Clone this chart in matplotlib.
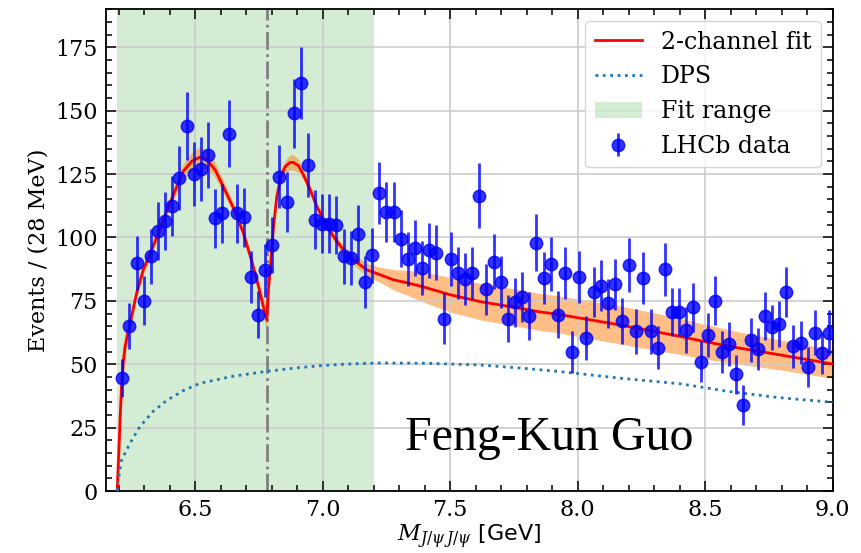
import numpy as np
import matplotlib
matplotlib.use("Agg")
import matplotlib.pyplot as plt

plt.rcParams["font.family"] = "DejaVu Serif"
plt.rcParams["mathtext.fontset"] = "dejavuserif"
plt.rcParams["font.size"] = 16

# LHCb di-J/psi spectrum, 28 MeV bins starting at 6.2 GeV
bin_lo = 6.2
bin_width = 0.028
events = [44.5, 65, 90, 75, 92.5, 102.5, 106.5, 112.5, 123.5, 144,
          125, 127, 132.5, 107.5, 109.5, 141, 109.5, 108, 84.5, 69.5,
          87, 97, 124, 114, 149, 161, 128.5, 107, 105.5, 105.5,
          105, 92.5, 92, 101.5, 82.5, 93, 117.5, 110, 110, 99.5,
          91.5, 96, 88, 95, 94, 68, 91.5, 86, 83.5, 86,
          116.5, 79.5, 90.5, 82.5, 68, 74.5, 76.5, 69, 98, 84,
          89.5, 69.5, 86, 55, 84.5, 60.5, 78.5, 81, 74, 81.5,
          67, 89, 63, 84, 63, 56.5, 87.5, 70.5, 70.5, 63.5,
          72.5, 51, 61.5, 75, 55, 58, 46, 34, 59.5, 56,
          69, 64.5, 66, 78.5, 57, 58.5, 49, 62.5, 54.5, 62.5]
errors = [7.5, 9.0, 10.6, 9.7, 10.8, 11.3, 11.6, 11.9, 12.5, 13.4,
          12.5, 12.6, 12.9, 11.6, 11.7, 13.3, 11.7, 11.6, 10.3, 9.3,
          10.4, 11.0, 12.5, 12.0, 13.7, 14.2, 12.7, 11.6, 11.5, 11.5,
          11.5, 10.8, 10.7, 11.3, 10.2, 10.8, 12.1, 11.7, 11.7, 11.2,
          10.7, 11.0, 10.5, 10.9, 10.8, 10.0, 10.7, 10.4, 10.2, 10.4,
          12.8, 10.0, 10.7, 10.2, 9.2, 9.7, 9.8, 9.3, 11.1, 10.3,
          10.6, 9.3, 10.4, 8.3, 10.3, 8.7, 9.9, 10.1, 9.6, 10.1,
          9.2, 10.6, 8.9, 10.3, 8.9, 8.4, 10.5, 9.4, 9.4, 8.9,
          9.6, 8.0, 8.8, 9.7, 8.3, 8.5, 7.6, 8.0, 8.6, 8.4,
          9.3, 9.0, 9.1, 9.9, 8.5, 8.6, 7.8, 8.9, 8.3, 8.8]
mass = bin_lo + bin_width * (np.arange(len(events)) + 0.5)

# Two-channel fit curve and its uncertainty band
fit_mass = [6.194, 6.197, 6.201, 6.206, 6.212, 6.218, 6.225, 6.235, 6.244, 6.257,
            6.270, 6.296, 6.329, 6.355, 6.388, 6.421, 6.453, 6.486, 6.516, 6.545,
            6.578, 6.610, 6.650, 6.689, 6.722, 6.748, 6.767, 6.781, 6.787, 6.798,
            6.807, 6.820, 6.836, 6.853, 6.872, 6.885, 6.905, 6.924, 6.951, 6.977,
            7.010, 7.042, 7.081, 7.121, 7.173, 7.225, 7.278, 7.336, 7.395, 7.500,
            7.618, 7.749, 7.853, 7.918, 8.009, 8.166, 8.323, 8.401, 8.480, 8.597,
            8.793, 9.000]
fit_events = [0, 8, 17.5, 30, 43.5, 51, 57, 62, 65.5, 72,
              78, 87.2, 95.1, 101.7, 110.3, 118.5, 126.1, 130, 131.6, 130.7,
              126.7, 120.1, 111.6, 101.7, 90.5, 80.7, 72.8, 67.5, 79.4, 92.5,
              104.3, 116.2, 124.1, 128, 129.6, 129.6, 128.3, 124.8, 118.8, 112.2,
              105.7, 100.4, 95.1, 91.2, 87.2, 85.3, 83.3, 82.0, 80.5, 77.4,
              74.7, 72.5, 70.6, 69.8, 68.2, 65.5, 62.5, 61.0, 59.3, 57.0,
              53.7, 50.1]
fit_halfwidth = [0, 6, 10, 12, 10, 7, 5, 3, 2, 2,
                 2, 2, 2, 2, 2, 2.5, 3, 3.5, 4, 3.5,
                 3, 2.5, 2, 2, 2, 2.5, 3.5, 5, 4, 3,
                 2.5, 2.5, 2.5, 2.5, 3, 3, 2.5, 2, 2, 1.8,
                 1.8, 1.8, 1.8, 2, 2.5, 3, 4, 5, 6, 6.8,
                 7.2, 7.3, 7.3, 7.3, 7.4, 7.5, 7.3, 7.1, 6.9, 6.5,
                 5.9, 5.7]

# Double-parton-scattering background
dps_mass = [6.194, 6.198, 6.211, 6.244, 6.283, 6.336, 6.388, 6.453, 6.519, 6.650,
            6.781, 6.900, 7.000, 7.100, 7.225, 7.400, 7.618, 7.800, 7.931, 8.166,
            8.401, 8.597, 8.793, 9.000]
dps_events = [0, 4.3, 12.2, 18.8, 25.4, 31.5, 35.7, 39.6, 42.5, 45.3,
              47.2, 48.6, 49.5, 50.1, 50.5, 50.4, 49.7, 48.3, 47.1, 44.5,
              42.3, 39.2, 36.8, 35.0]

fit_lo, fit_hi = 6.194, 7.2
threshold = 6.783

fig = plt.figure(figsize=(8.61, 5.53), dpi=100)
ax = fig.add_axes([0.1231, 0.1121, 0.8440, 0.8711])

span = ax.axvspan(fit_lo, fit_hi, color="C2", alpha=0.2, lw=0, label="Fit range")
fm = np.array(fit_mass)
fe = np.array(fit_events)
hw = np.array(fit_halfwidth)
ax.fill_between(fm, np.clip(fe - hw, 0, None), fe + hw, color="C1", alpha=0.5, lw=0)
fit_line, = ax.plot(fit_mass, fit_events, color="red", lw=2, label="2-channel fit", zorder=3)
dps_line, = ax.plot(dps_mass, dps_events, color="C0", ls=":", lw=2, label="DPS", zorder=3)
ax.axvline(threshold, color="gray", ls="-.", lw=2, zorder=2.5)
data = ax.errorbar(mass, events, yerr=errors, fmt="o", color="blue", alpha=0.8,
                   ms=9, elinewidth=2, capsize=0, label="LHCb data", zorder=4)

ax.text(7.323, 16.2, "Feng-Kun Guo", family="Liberation Serif", fontsize=34.5,
        ha="left", va="baseline", zorder=5)

ax.set_xlim(6.15, 9.0)
ax.set_ylim(0, 190)
ax.set_xticks([6.5, 7.0, 7.5, 8.0, 8.5, 9.0])
ax.set_yticks([0, 25, 50, 75, 100, 125, 150, 175])
ax.xaxis.set_minor_locator(matplotlib.ticker.MultipleLocator(0.1))
ax.yaxis.set_minor_locator(matplotlib.ticker.MultipleLocator(5))
ax.tick_params(which="both", direction="in", top=True, right=True, width=1.1)
ax.tick_params(which="major", length=7, pad=6)
ax.tick_params(which="minor", length=4)
for s in ax.spines.values():
    s.set_linewidth(1.3)
ax.grid(True, which="major", color="0.8", lw=1.2)

ax.set_xlabel(r"$M_{J/\psi\,J/\psi}$ [GeV]", family="DejaVu Sans", labelpad=1)
ax.set_ylabel("Events / (28 MeV)")

ax.legend([fit_line, dps_line, span, data],
          ["2-channel fit", "DPS", "Fit range", "LHCb data"],
          loc="upper right", fontsize=17)

fig.savefig("out.png", dpi=100)
